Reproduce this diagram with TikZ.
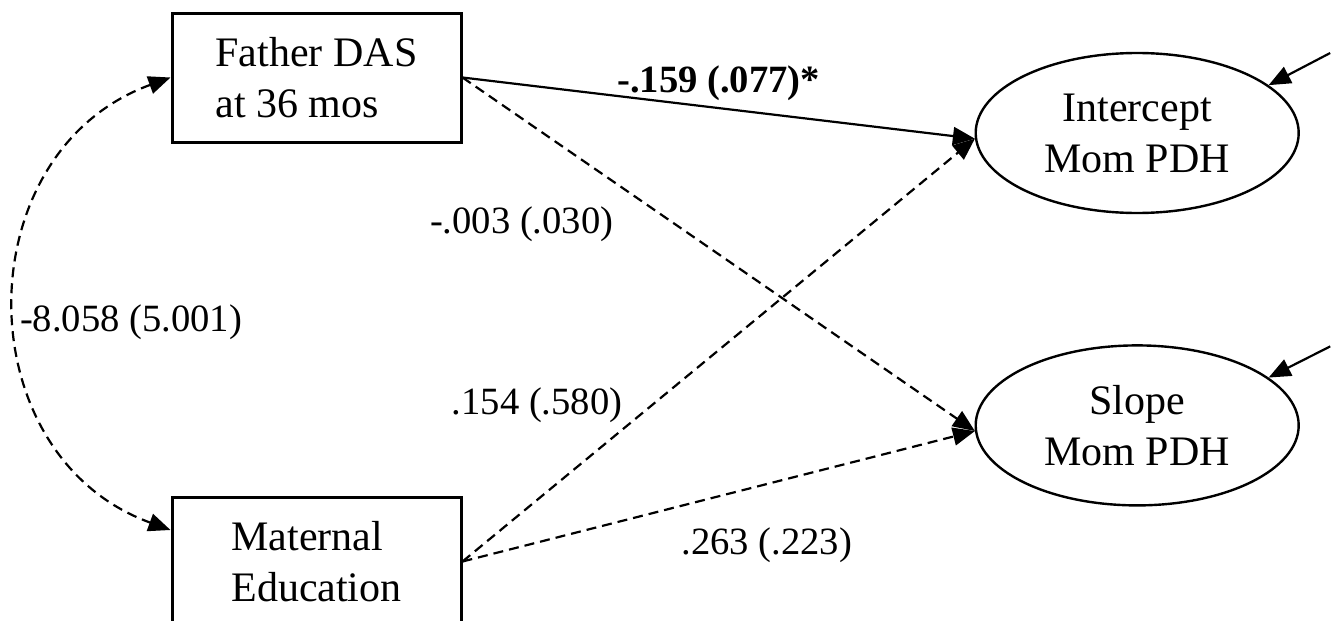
\documentclass[tikz,border=0pt]{standalone}
\usepackage{fontspec}
\setmainfont{Liberation Serif}
\usepackage{tikz}
\usetikzlibrary{positioning,shapes,arrows.meta}

\begin{document}
\begin{tikzpicture}[
obsbox/.style={rectangle, draw=black, line width=1.5pt, minimum width=144.5pt, minimum height=64.5pt, align=left, font=\fontsize{21}{25.5}\selectfont},
latent/.style={ellipse, draw=black, line width=1.2pt, minimum width=161.5pt, minimum height=80pt, align=center, font=\fontsize{21}{25.5}\selectfont},
effect/.style={-{Triangle[length=11pt,width=9pt]}, line width=1.1pt},
dasheffect/.style={effect, dash pattern=on 5pt off 3pt},
coef/.style={font=\fontsize{19.3}{23}\selectfont},
]
\useasboundingbox (0,0) rectangle (667.5pt,-310.5pt);

\node[obsbox] (father) at (158.25pt,-38.75pt) {Father DAS\\at 36 mos};
\node[obsbox] (mat) [below=176pt of father] {Maternal\\Education};
\node[latent] (intercept) [right=256pt of father, yshift=-27.75pt] {Intercept\\Mom PDH};
\node[latent] (slope) [below=65pt of intercept] {Slope\\Mom PDH};

%Residuals
\coordinate (eint) at ([shift={(96.5pt,40pt)}]intercept.center);
\coordinate (eslope) at ([shift={(96.5pt,39.5pt)}]slope.center);
\draw[effect] (eint) -- (intercept.20);
\draw[effect] (eslope) -- (slope.20);

%Covariance
\draw[dasheffect, {Triangle[length=11pt,width=9pt]}-{Triangle[length=11pt,width=9pt]}] (father.west) to[out=200, in=160, looseness=1.24] node[coef, right=-2pt, yshift=-9pt] (covlab) {-8.058 (5.001)} ([yshift=15.75pt]mat.west);

%Father DAS paths
\draw[effect] (father.east) -- node[coef, above] (lab1) {\textbf{-.159 (.077)*}} (intercept.182);
\draw[dasheffect] (father.east) -- node[coef, pos=0.415, left=27pt] (lab2) {-.003 (.030)} (slope.182);

%Maternal education paths
\draw[dasheffect] (mat.east) -- node[coef, pos=0.37, left=11pt] (lab3) {.154 (.580)} (intercept.182);
\draw[dasheffect] (mat.east) -- node[coef, pos=0.594, below=18pt] (lab4) {.263 (.223)} (slope.182);
\end{tikzpicture}
\end{document}
